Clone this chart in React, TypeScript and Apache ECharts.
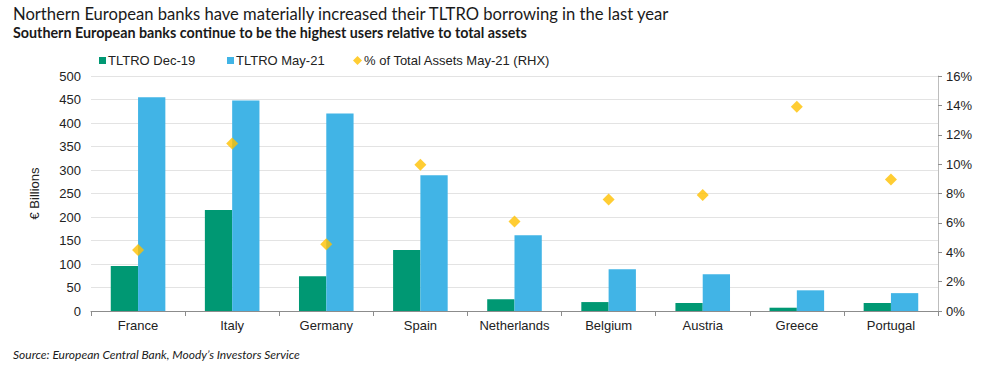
import React, { useEffect, useRef } from "react";
import * as echarts from "echarts";

const categories = ["France", "Italy", "Germany", "Spain", "Netherlands", "Belgium", "Austria", "Greece", "Portugal"];
const tltroDec19 = [96, 215, 74, 130, 25, 19, 17, 7, 17];
const tltroMay21 = [455, 448, 420, 289, 161, 89, 78, 44, 38];
const pctAssetsMay21 = [4.15, 11.4, 4.55, 9.95, 6.1, 7.6, 7.9, 13.9, 8.95];
const leftTicks = { min: 0, max: 500, interval: 50 };
const rightTicks = { min: 0, max: 16, interval: 2 };

const GREEN = "#009873";
const BLUE = "#41B4E6";
const GOLD = "#FFC000";
const TXT = "#222222";

const legendText = { fontFamily: "Liberation Sans", fontSize: 13, color: TXT, padding: [0, 0, 0, -3] };

export default function App() {
  const ref = useRef<HTMLDivElement>(null);
  useEffect(() => {
    const chart = echarts.init(ref.current!, null, { renderer: "svg" });
    chart.setOption({
      animation: false,
      backgroundColor: "#ffffff",
      title: [
        {
          text: "Northern European banks have materially increased their TLTRO borrowing in the last year",
          left: 8,
          top: 0,
          textStyle: { fontFamily: "Lato", fontSize: 16.6, fontWeight: "normal", color: "#1a1a1a" },
        },
        {
          text: "Southern European banks continue to be the highest users relative to total assets",
          left: 8,
          top: 20,
          textStyle: { fontFamily: "Lato", fontSize: 14.3, fontWeight: "bold", color: "#1a1a1a" },
        },
        {
          text: "Source: European Central Bank, Moody’s Investors Service",
          left: 8,
          top: 343,
          textStyle: { fontFamily: "Lato", fontSize: 12, fontStyle: "italic", fontWeight: "normal", color: "#1a1a1a" },
        },
      ],
      legend: [
        {
          left: 94,
          top: 49,
          itemWidth: 7,
          itemHeight: 7,
          textStyle: legendText,
          data: [{ name: "TLTRO Dec-19", icon: "rect" }],
        },
        {
          left: 222,
          top: 49,
          itemWidth: 7,
          itemHeight: 7,
          textStyle: legendText,
          data: [{ name: "TLTRO May-21", icon: "rect" }],
        },
        {
          left: 348,
          top: 49,
          itemWidth: 9,
          itemHeight: 9,
          textStyle: legendText,
          data: [{ name: "% of Total Assets May-21 (RHX)", icon: "diamond" }],
        },
      ],
      grid: { left: 91, right: 62, top: 76, bottom: 61, containLabel: false },
      xAxis: {
        type: "category",
        data: categories,
        axisLine: { lineStyle: { color: "#8c8c8c", width: 1 } },
        axisTick: { show: true, length: 5, lineStyle: { color: "#8c8c8c" } },
        axisLabel: { fontFamily: "Liberation Sans", fontSize: 13, color: TXT, margin: 8 },
      },
      yAxis: [
        {
          type: "value",
          ...leftTicks,
          name: "€ Billions",
          nameLocation: "middle",
          nameRotate: 90,
          nameGap: 50,
          nameTextStyle: { fontFamily: "Liberation Sans", fontSize: 13, color: TXT },
          axisLine: { show: false },
          axisTick: { show: false },
          axisLabel: { fontFamily: "Liberation Sans", fontSize: 13, color: TXT, margin: 10 },
          splitLine: { show: true, lineStyle: { color: "#e3e3e3", width: 1 } },
        },
        {
          type: "value",
          ...rightTicks,
          position: "right",
          axisLine: { show: true, lineStyle: { color: "#bdbdbd", width: 1 } },
          axisTick: { show: true, length: 4, inside: false, lineStyle: { color: "#8c8c8c" } },
          axisLabel: { fontFamily: "Liberation Sans", fontSize: 13, color: TXT, margin: 8, formatter: "{value}%" },
          splitLine: { show: false },
        },
      ],
      series: [
        {
          name: "TLTRO Dec-19",
          type: "bar",
          data: tltroDec19,
          itemStyle: { color: GREEN },
          barGap: "0%",
          barCategoryGap: "42%",
        },
        {
          name: "TLTRO May-21",
          type: "bar",
          data: tltroMay21,
          itemStyle: { color: BLUE },
          barGap: "0%",
          barCategoryGap: "42%",
        },
        {
          name: "% of Total Assets May-21 (RHX)",
          type: "scatter",
          yAxisIndex: 1,
          data: pctAssetsMay21,
          symbol: "diamond",
          symbolSize: 12,
          itemStyle: { color: GOLD },
          z: 5,
        },
      ],
    });
    return () => chart.dispose();
  }, []);
  return <div ref={ref} style={{ width: 1000, height: 372, position: "absolute", left: 0, top: 0 }} />;
}
